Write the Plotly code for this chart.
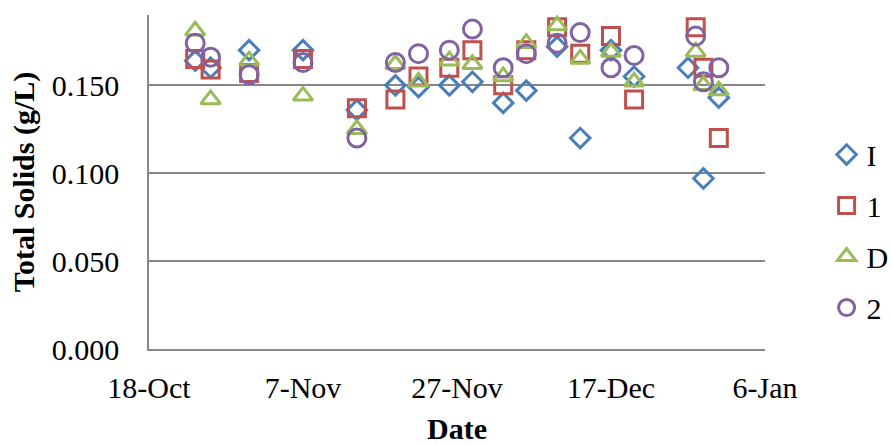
import plotly.graph_objects as go

# Sampling dates (offsets are in days from 18-Oct)
dates_common = ["2012-10-24", "2012-10-26", "2012-10-31", "2012-11-07", "2012-11-14",
                "2012-11-19", "2012-11-22", "2012-11-26", "2012-11-29", "2012-12-03",
                "2012-12-06", "2012-12-10", "2012-12-13", "2012-12-17", "2012-12-20",
                "2012-12-28", "2012-12-29", "2012-12-31"]
dates_I = dates_common[:15] + ["2012-12-27", "2012-12-29", "2012-12-31"]

# Total solids (g/L) per sampling point
ts_I = [0.164, 0.160, 0.170, 0.170, 0.136, 0.150, 0.149, 0.150, 0.152, 0.140,
        0.147, 0.172, 0.120, 0.170, 0.155, 0.160, 0.097, 0.143]
ts_1 = [0.165, 0.159, 0.157, 0.165, 0.137, 0.142, 0.155, 0.160, 0.170, 0.150,
        0.170, 0.183, 0.168, 0.178, 0.142, 0.183, 0.160, 0.120]
ts_D = [0.181, 0.142, 0.164, 0.144, 0.125, 0.162, 0.152, 0.164, 0.162, 0.155,
        0.174, 0.184, 0.165, 0.169, 0.152, 0.169, 0.150, 0.147]
ts_2 = [0.174, 0.166, 0.156, 0.163, 0.120, 0.163, 0.168, 0.170, 0.182, 0.160,
        0.168, 0.174, 0.180, 0.160, 0.167, 0.178, 0.152, 0.160]

series = [
    ("I", dates_I, ts_I, "diamond-open", 15, "#4A7EBB"),
    ("1", dates_common, ts_1, "square-open", 17, "#C0504D"),
    ("D", dates_common, ts_D, "triangle-up-open", 17, "#9BBB59"),
    ("2", dates_common, ts_2, "circle-open", 18, "#8064A2"),
]

font_family = "Liberation Serif, Times New Roman, serif"

fig = go.Figure()
for name, x, y, symbol, size, color in series:
    fig.add_trace(go.Scatter(
        x=x, y=y, name=name, mode="markers", legendgroup=name,
        marker=dict(symbol=symbol, size=size, color=color,
                    line=dict(color=color, width=3)),
    ))

fig.update_layout(
    width=892, height=445,
    margin=dict(l=149, r=127, t=15, b=96, autoexpand=False),
    paper_bgcolor="white", plot_bgcolor="white",
    font=dict(family=font_family, size=30, color="black"),
    showlegend=True,
    legend=dict(x=1.1, y=0.66, xanchor="left", yanchor="top",
                font=dict(size=30), tracegroupgap=9,
                bgcolor="rgba(0,0,0,0)"),
    xaxis=dict(
        type="date",
        range=["2012-10-18", "2013-01-06"],
        tick0="2012-10-18", dtick=20 * 86400000,
        tickformat="%-d-%b",
        showgrid=False, showline=True, linecolor="#868686", linewidth=1.5,
        ticks="", ticklabelstandoff=11,
        title=dict(text="<b>Date</b>", font=dict(size=30), standoff=16),
        zeroline=False,
    ),
    yaxis=dict(
        range=[0, 0.19],
        tick0=0, dtick=0.05, tickformat=".3f",
        showgrid=True, gridcolor="#868686", gridwidth=1.5,
        showline=True, linecolor="#868686", linewidth=1.5,
        ticks="", ticklabelstandoff=22,
        title=dict(text="<b>Total Solids (g/L)</b>", font=dict(size=30), standoff=8),
        zeroline=False,
    ),
)

fig.write_html("out.html")
